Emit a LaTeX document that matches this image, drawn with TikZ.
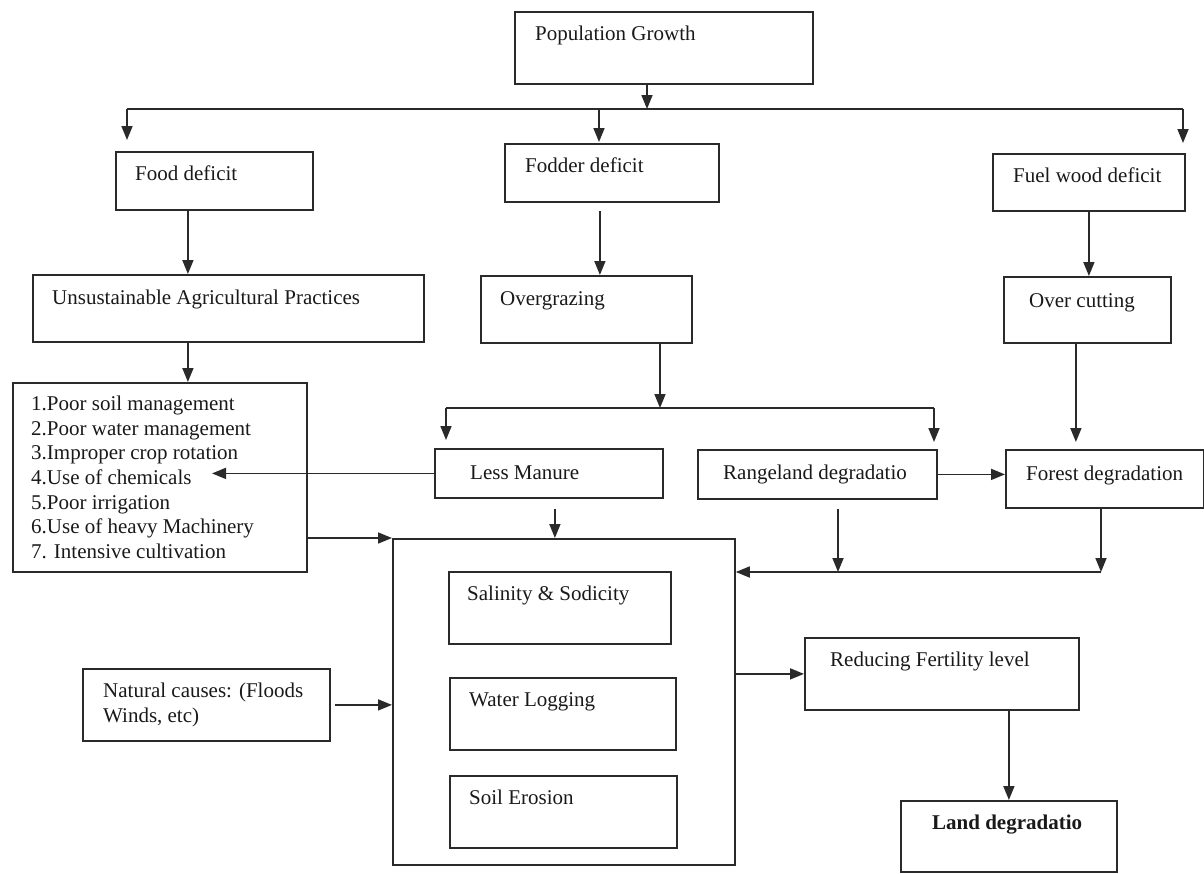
\documentclass[tikz,border=0pt]{standalone}
\usepackage{fontspec}
\setmainfont{Liberation Serif}
\usetikzlibrary{arrows.meta}
\definecolor{ln}{HTML}{2A2A2A}
\newcommand\mybox[5]{\node[box,anchor=north west,minimum width=#4pt,minimum height=#5pt] (#1) at (#2,#3) {};}
\begin{document}
\begin{tikzpicture}[x=1pt,y=-1pt,
  box/.style={draw=ln,line width=1.8pt,inner sep=0pt,rectangle},
  txt/.style={inner sep=0pt,anchor=base west,font=\fontsize{21}{25}\selectfont,text=black!90},
  arr/.style={draw=ln,line width=1.7pt,-{Triangle[length=14pt,width=11pt]}},
  ln/.style={draw=ln,line width=1.7pt}]
\useasboundingbox (0,0) rectangle (1204,873);
% boxes
\mybox{pg}{514}{11}{298}{72}
\mybox{food}{115}{151}{197}{58}
\mybox{fodder}{504}{143}{214}{58}
\mybox{fuel}{992}{153}{192}{57}
\mybox{unsust}{32}{274}{391}{67}
\mybox{overg}{480}{275}{211}{67}
\mybox{overc}{1003}{276}{167}{66}
\mybox{list}{12}{382}{294}{189}
\mybox{lessm}{434}{448}{228}{49}
\mybox{range}{697}{449}{239}{49}
\mybox{forest}{1005}{449}{198}{58}
\mybox{big}{392}{538}{342}{326}
\mybox{sal}{448}{571}{222}{72}
\mybox{water}{449}{677}{226}{72}
\mybox{soil}{449}{775}{227}{72}
\mybox{natural}{82}{668}{247}{72}
\mybox{reduce}{804}{637}{274}{72}
\mybox{land}{900}{800}{216}{71}
% texts
\node[txt] (pgt) at (535,40) {Population Growth};
\node[txt] (foodt) at (135,180) {Food deficit};
\node[txt] (foddert) at (525,172) {Fodder deficit};
\node[txt] (fuelt) at (1013,182) {Fuel wood deficit};
\node[txt] (unsustt) at (52,304) {Unsustainable Agricultural Practices};
\node[txt] (overgt) at (500,305) {Overgrazing};
\node[txt] (overct) at (1029,307) {Over cutting};
\node[txt] (l1) at (31,410) {1.Poor soil management};
\node[txt] (l2) at (31,435) {2.Poor water management};
\node[txt] (l3) at (31,459) {3.Improper crop rotation};
\node[txt] (l4) at (31,484) {4.Use of chemicals};
\node[txt] (l5) at (31,509) {5.Poor irrigation};
\node[txt] (l6) at (31,533) {6.Use of heavy Machinery};
\node[txt] (l7) at (31,558) {7. Intensive cultivation};
\node[txt] (lessmt) at (470,479) {Less Manure};
\node[txt] (ranget) at (723,479) {Rangeland degradatio};
\node[txt] (forestt) at (1026,480) {Forest degradation};
\node[txt] (salt) at (467,600) {Salinity \& Sodicity};
\node[txt] (watert) at (469,706) {Water Logging};
\node[txt] (soilt) at (469,804) {Soil Erosion};
\node[txt] (nat1) at (103,697) {Natural causes: (Floods};
\node[txt] (nat2) at (103,722) {Winds, etc)};
\node[txt] (reducet) at (830,666) {Reducing Fertility level};
\node[txt,font=\fontsize{21}{25}\selectfont\bfseries] (landt) at (932,829) {Land degradatio};
% junction coordinates
\coordinate (j1) at (647,109);
\coordinate (hl) at (127,109);
\coordinate (hm) at (599,109);
\coordinate (hr) at (1183,109);
\coordinate (og) at (660,408);
\coordinate (ml) at (446,408);
\coordinate (mr) at (934,408);
\coordinate (lc) at (212,473);
\coordinate (bj) at (838,572);
\coordinate (bf) at (1101,572);
% connectors
\draw[arr] (pg.south -| j1) -- (j1);
\draw[ln] (hl) -- (hr);
\draw[arr,shorten >=11pt] (hl) -- (hl |- food.north);
\draw[arr,shorten >=1pt] (hm) -- (hm |- fodder.north);
\draw[arr,shorten >=10pt] (hr) -- (hr |- fuel.north);
\draw[arr] ([xshift=-26.5pt]food.south) -- ([xshift=-26.5pt]food.south |- unsust.north);
\draw[arr,shorten <=8pt] ([xshift=-12pt]fodder.south) -- ([xshift=-12pt]fodder.south |- overg.north);
\draw[arr] (fuel.south) -- (fuel.south |- overc.north);
\draw[arr] ([xshift=-40.5pt]unsust.south) -- ([xshift=-40.5pt]unsust.south |- list.north);
\draw[arr] (overg.south -| og) -- (og);
\draw[ln] (ml) -- (mr);
\draw[arr,shorten >=8pt] (ml) -- (ml |- lessm.north);
\draw[arr,shorten >=7pt] (mr) -- (mr |- range.north);
\draw[arr,shorten >=7pt] ([xshift=-11.5pt]overc.south) -- ([xshift=-11.5pt]overc.south |- forest.north);
\draw[arr] (lessm.west) -- (lessm.west -| lc);
\draw[arr] (range.east) -- (range.east -| forest.west);
\draw[arr,shorten <=10pt] ([xshift=6pt]lessm.south) -- ([xshift=6pt]lessm.south |- big.north);
\draw[arr,shorten <=9pt] (range.south -| bj) -- (bj);
\draw[arr] (forest.south -| bf) -- (bf);
\draw[arr] (bf) -- (big.east |- bf);
\draw[arr] (list.east |- big.north west) -- (big.north west);
\draw[arr,shorten <=4pt] (natural.east) -- (natural.east -| big.west);
\draw[arr] (reduce.west -| big.east) -- (reduce.west);
\draw[arr] (land.north |- reduce.south) -- (land.north);
\end{tikzpicture}
\end{document}
